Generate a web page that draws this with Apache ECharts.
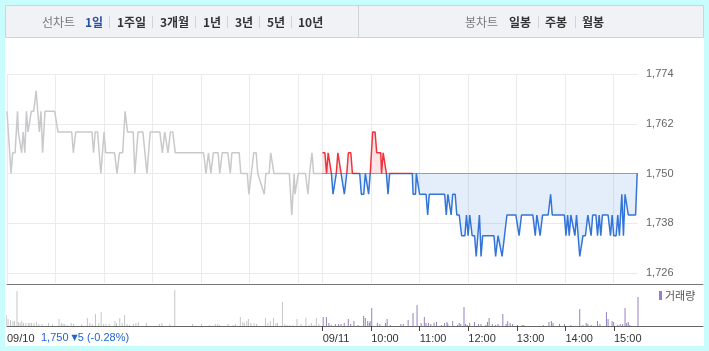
<!DOCTYPE html>
<html>
<head>
<meta charset="utf-8">
<script src="https://cdn.jsdelivr.net/npm/echarts@6/dist/echarts.min.js"></script>
<style>
  html, body { margin: 0; padding: 0; background: #c9fdfd; }
  #panel { position: absolute; left: 5px; top: 5px; width: 699px; height: 341px; background: #fff; }
  #chart { position: absolute; left: 0; top: 0; width: 709px; height: 351px; }
</style>
</head>
<body>
<div id="panel"></div>
<div id="chart"></div>
<script>
// minutes since 09/10 09:00 (390 = 09/11 09:00, 780 = 09/11 15:30)
const day1Time = [0, 5, 7, 10, 13, 14, 16, 18, 20, 22, 24, 26, 28, 30, 33, 36, 38, 40, 42, 44, 47, 59, 63, 80, 82, 85, 105, 107, 109, 112, 116, 120, 122, 133, 136, 139, 143, 146, 149, 156, 158, 162, 168, 173, 177, 189, 192, 195, 199, 202, 205, 208, 243, 246, 249, 252, 255, 261, 263, 266, 273, 276, 278, 287, 289, 297, 299, 302, 305, 308, 310, 318, 320, 324, 326, 328, 330, 349, 352, 355, 356, 358, 360, 369, 372, 374, 377, 379, 390];
const day1Price = [1765, 1750, 1755, 1755, 1765, 1760, 1760, 1755, 1760, 1755, 1765, 1760, 1760, 1765, 1765, 1770, 1770, 1760, 1765, 1755, 1765, 1765, 1760, 1760, 1755, 1760, 1760, 1755, 1760, 1760, 1750, 1760, 1755, 1755, 1750, 1755, 1755, 1765, 1760, 1760, 1750, 1760, 1760, 1750, 1760, 1760, 1755, 1760, 1755, 1760, 1760, 1755, 1755, 1750, 1755, 1750, 1755, 1755, 1750, 1755, 1755, 1750, 1755, 1755, 1750, 1750, 1745, 1750, 1755, 1755, 1750, 1745, 1750, 1750, 1755, 1755, 1750, 1750, 1740, 1750, 1745, 1745, 1750, 1750, 1745, 1750, 1755, 1750, 1750];

const day2Time = [390, 393, 395, 397, 399, 401, 403, 405, 407, 409, 411, 413, 415, 417, 420, 422, 425, 427, 436, 438, 441, 443, 445, 447, 449, 452, 455, 457, 462, 463, 465, 467, 469, 471, 473, 501, 502, 505, 506, 508, 510, 518, 520, 522, 541, 543, 545, 546, 549, 551, 554, 556, 559, 562, 566, 568, 570, 572, 575, 578, 580, 582, 584, 586, 588, 602, 604, 607, 609, 612, 615, 618, 629, 633, 636, 650, 653, 655, 657, 659, 662, 669, 672, 674, 689, 691, 693, 695, 697, 699, 702, 704, 706, 708, 710, 712, 715, 718, 720, 722, 724, 728, 730, 732, 734, 736, 743, 746, 748, 750, 753, 755, 757, 760, 762, 764, 766, 768, 777, 779];
const day2Price = [1755, 1755, 1750, 1755, 1755, 1750, 1745, 1745, 1750, 1755, 1755, 1750, 1750, 1745, 1750, 1755, 1755, 1750, 1750, 1745, 1745, 1750, 1750, 1745, 1750, 1760, 1760, 1755, 1755, 1750, 1755, 1755, 1750, 1745, 1750, 1750, 1745, 1745, 1750, 1750, 1745, 1745, 1740, 1745, 1745, 1740, 1745, 1745, 1740, 1745, 1745, 1740, 1740, 1735, 1735, 1740, 1735, 1740, 1735, 1735, 1730, 1735, 1740, 1730, 1735, 1735, 1730, 1735, 1735, 1730, 1735, 1740, 1740, 1735, 1740, 1740, 1735, 1740, 1740, 1735, 1740, 1740, 1745, 1740, 1740, 1735, 1740, 1735, 1740, 1740, 1735, 1740, 1735, 1730, 1730, 1735, 1735, 1740, 1740, 1735, 1740, 1740, 1735, 1740, 1735, 1740, 1740, 1735, 1740, 1735, 1735, 1740, 1735, 1745, 1735, 1745, 1745, 1740, 1740, 1750];

const vol1Time = [0, 2, 5, 8, 10, 13, 15, 17, 19, 21, 24, 27, 29, 31, 34, 37, 40, 44, 52, 57, 65, 68, 70, 72, 75, 80, 83, 93, 100, 103, 106, 110, 114, 117, 120, 123, 127, 134, 136, 140, 143, 146, 149, 152, 157, 160, 163, 173, 189, 192, 202, 208, 230, 241, 251, 258, 261, 263, 274, 280, 283, 289, 292, 294, 297, 299, 302, 306, 309, 320, 323, 326, 330, 333, 335, 341, 344, 347, 350, 354, 359, 364, 370, 374, 377, 380, 383, 386];
const vol1Val = [11, 7, 6, 5, 5, 35, 4, 3, 5, 3, 3, 3, 3, 3, 3, 4, 2, 2, 3, 2, 7, 3, 2, 2, 1, 3, 2, 2, 8, 3, 2, 12, 3, 14, 2, 2, 2, 5, 3, 8, 3, 11, 2, 1, 2, 3, 4, 3, 2, 3, 2, 36, 2, 2, 1, 2, 2, 1, 2, 1, 2, 9, 4, 3, 5, 7, 3, 3, 2, 8, 3, 5, 8, 3, 3, 24, 2, 1, 1, 1, 7, 2, 8, 1, 3, 1, 8, 2];

const vol2Time = [390, 394, 397, 400, 405, 409, 412, 416, 421, 424, 428, 433, 440, 442, 445, 447, 448, 450, 457, 460, 467, 469, 473, 486, 489, 495, 501, 506, 511, 515, 517, 520, 523, 527, 530, 536, 540, 543, 544, 550, 556, 558, 560, 564, 566, 568, 571, 577, 582, 585, 591, 593, 595, 599, 603, 606, 612, 616, 618, 621, 624, 630, 636, 638, 662, 669, 672, 674, 682, 688, 696, 707, 711, 715, 717, 721, 729, 732, 740, 742, 747, 749, 754, 757, 760, 763, 765, 767, 769, 779];
const vol2Val = [9, 9, 3, 1, 2, 2, 2, 3, 7, 2, 5, 1, 10, 8, 5, 3, 5, 18, 3, 2, 3, 7, 1, 2, 2, 6, 13, 21, 3, 9, 3, 3, 2, 3, 4, 1, 3, 4, 2, 5, 1, 3, 2, 19, 2, 1, 3, 4, 2, 2, 1, 4, 8, 2, 1, 2, 12, 2, 5, 3, 2, 1, 1, 1, 1, 4, 5, 3, 2, 2, 1, 17, 1, 3, 2, 1, 5, 2, 14, 7, 5, 4, 1, 2, 2, 18, 3, 4, 1, 29];

const gridMinutes = [0, 60, 120, 180, 240, 300, 360, 390, 450, 510, 570, 630, 690, 750];
const tickMinutes = [390, 450, 510, 570, 630, 690, 750];
const labelMinutes = [0, 390, 450, 510, 570, 630, 690, 750];
const priceTicks = [1726, 1738, 1750, 1762, 1774];

const baseline = 1750;
const font = '"Liberation Sans", Arial, sans-serif';
const krFont = '"Noto Sans CJK KR", sans-serif';

const zip = (xs, ys) => xs.map((x, i) => [x, ys[i]]);

const timeLabel = (m) => {
  if (m === 0) return "09/10";
  if (m === 390) return "09/11";
  const h = 9 + (m - 390) / 60;
  return `${String(h).padStart(2, "0")}:00`;
};

// tab bar at the top
const tabItems = [
  { text: "선차트", x: 42, kind: "head" },
  { text: "1일", x: 85, kind: "on" },
  { text: "1주일", x: 117 },
  { text: "3개월", x: 160 },
  { text: "1년", x: 203 },
  { text: "3년", x: 235 },
  { text: "5년", x: 267 },
  { text: "10년", x: 298 },
  { text: "봉차트", x: 465, kind: "head" },
  { text: "일봉", x: 509 },
  { text: "주봉", x: 545 },
  { text: "월봉", x: 582 },
];
const tabSeps = [109, 152, 195, 227, 259, 291, 538, 575];

const graphic = [
  {
    type: "rect",
    shape: { x: 5.5, y: 5.5, width: 698, height: 32 },
    style: { fill: "#f1f2f6", stroke: "#cfd2d8", lineWidth: 1 },
  },
  {
    type: "line",
    shape: { x1: 358.5, y1: 6, x2: 358.5, y2: 37 },
    style: { stroke: "#cfd2d8", lineWidth: 1 },
  },
  ...tabSeps.map((x) => ({
    type: "line",
    shape: { x1: x + 0.5, y1: 16, x2: x + 0.5, y2: 28 },
    style: { stroke: "#d3d3d3", lineWidth: 1 },
  })),
  ...tabItems.map((t) => ({
    type: "text",
    x: t.x,
    y: 22,
    style: {
      text: t.text,
      font: `${t.kind === "head" ? "normal" : "bold"} 12px ${krFont}`,
      fill: t.kind === "head" ? "#7a7a7a" : t.kind === "on" ? "#2b51a3" : "#333",
      verticalAlign: "middle",
    },
  })),
  {
    type: "text",
    x: 41,
    y: 338,
    style: {
      text: "{a|1,750 }{t|▼}{a|5 (-0.28%)}",
      rich: {
        a: { fontSize: 11, fontFamily: font, fill: "#1e64d4" },
        t: { fontSize: 8, fontFamily: "DejaVu Sans", fill: "#1e64d4" },
      },
      verticalAlign: "middle",
    },
  },
];

const chart = echarts.init(document.getElementById("chart"), null, { renderer: "canvas" });

const option = {
  animation: false,
  backgroundColor: "transparent",
  graphic: graphic,
  legend: {
    data: ["거래량"],
    left: 659,
    top: 290,
    padding: 0,
    icon: "rect",
    itemWidth: 3,
    itemHeight: 9,
    itemGap: 4,
    selectedMode: false,
    textStyle: { fontSize: 11, color: "#555", fontFamily: krFont, padding: [0, 0, 0, -2] },
  },
  grid: [
    { left: 7, top: 74, width: 631, height: 209 },
    { left: 7, top: 284, width: 696, height: 42 },
  ],
  xAxis: [
    {
      gridIndex: 0,
      type: "value",
      min: 0,
      max: 780,
      axisLine: { show: false },
      axisTick: { show: false, customValues: gridMinutes },
      axisLabel: { show: false },
      splitLine: { show: true, lineStyle: { color: "#ebebeb", width: 1 } },
    },
    {
      gridIndex: 1,
      type: "value",
      position: "bottom",
      min: 0,
      max: 860,
      axisLine: { show: true, lineStyle: { color: "#666", width: 1 } },
      axisTick: { show: true, customValues: tickMinutes, length: 5, lineStyle: { color: "#444" } },
      axisLabel: {
        customValues: labelMinutes,
        formatter: timeLabel,
        align: "left",
        margin: 7,
        color: "#333",
        fontSize: 11,
        fontFamily: font,
      },
      splitLine: { show: false },
    },
    {
      gridIndex: 1,
      type: "value",
      position: "top",
      min: 0,
      max: 860,
      axisLine: { show: true, lineStyle: { color: "#777", width: 1 } },
      axisTick: { show: false },
      axisLabel: { show: false },
      splitLine: { show: false },
    },
  ],
  yAxis: [
    {
      gridIndex: 0,
      type: "value",
      position: "right",
      min: 1723.6,
      max: 1774,
      axisLine: { show: false },
      axisTick: { show: false, customValues: priceTicks },
      axisLabel: {
        customValues: priceTicks,
        formatter: (v) => v.toLocaleString("en-US"),
        margin: 8,
        color: "#666",
        fontSize: 11,
        fontFamily: font,
      },
      splitLine: { show: true, lineStyle: { color: "#ebebeb", width: 1 } },
    },
    {
      gridIndex: 1,
      type: "value",
      min: 0,
      max: 42,
      show: false,
    },
  ],
  visualMap: {
    type: "piecewise",
    show: false,
    seriesIndex: 1,
    dimension: 1,
    pieces: [
      { gte: 1700, lte: baseline, color: "#3274d8" },
      { gt: baseline, lte: 1800, color: "#f2333d" },
    ],
  },
  series: [
    {
      name: "prev",
      type: "line",
      xAxisIndex: 0,
      yAxisIndex: 0,
      data: zip(day1Time, day1Price),
      symbol: "none",
      color: "#c9c9cc",
      lineStyle: { width: 1.5 },
    },
    {
      name: "today",
      type: "line",
      xAxisIndex: 0,
      yAxisIndex: 0,
      data: zip(day2Time, day2Price),
      symbol: "none",
      lineStyle: { width: 1.5 },
      areaStyle: { origin: baseline, opacity: 0.13 },
      markLine: {
        silent: true,
        symbol: "none",
        label: { show: false },
        lineStyle: { color: "#555", type: "dotted", width: 1 },
        data: [[{ coord: [390, baseline] }, { coord: [780, baseline] }]],
      },
    },
    {
      name: "거래량(전일)",
      type: "bar",
      xAxisIndex: 1,
      yAxisIndex: 1,
      data: zip(vol1Time, vol1Val),
      barWidth: 1,
      color: "#c6c6c6",
    },
    {
      name: "거래량",
      type: "bar",
      xAxisIndex: 1,
      yAxisIndex: 1,
      data: zip(vol2Time, vol2Val),
      barWidth: 1,
      color: "#9780c4",
    },
  ],
};

chart.setOption(option);
</script>
</body>
</html>
